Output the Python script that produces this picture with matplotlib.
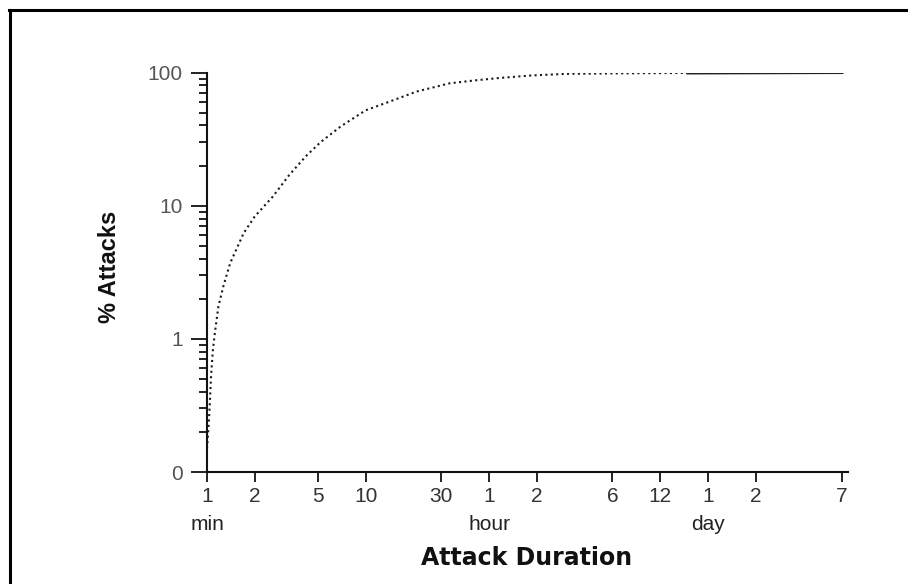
import matplotlib
matplotlib.use("Agg")
import matplotlib.pyplot as plt
from matplotlib.lines import Line2D
from matplotlib.transforms import blended_transform_factory

# =========================
# data (minutes, % attacks)
# =========================
duration_min = [1.0, 1.02, 1.04, 1.06, 1.09, 1.12, 1.18, 1.27, 1.4, 1.7,
                2.0, 2.6, 3.3, 4.2, 5.2, 7.0, 10.0, 15.0, 21.0, 34.0,
                50.0, 70.0, 111.0, 185.0, 374.0, 1080.0, 10080.0]
pct_attacks = [0.15, 0.21, 0.31, 0.52, 0.83, 1.1, 1.75, 2.5, 3.7, 6.2,
               8.3, 11.7, 17.0, 23.5, 30.0, 39.5, 52.0, 62.0, 72.0, 83.0,
               87.5, 91.0, 95.0, 97.7, 98.5, 99.2, 100.0]

x_ticks = [1, 2, 5, 10, 30, 60, 120, 360, 720, 1440, 2880, 10080]
x_tick_labels = ["1", "2", "5", "10", "30", "1", "2", "6", "12", "1", "2", "7"]
unit_pos = [1, 60, 1440]
unit_labels = ["min", "hour", "day"]

y_ticks = [0.1, 1, 10, 100]
y_tick_labels = ["0", "1", "10", "100"]

plt.rcParams["font.family"] = ["Liberation Sans", "DejaVu Sans"]

fig = plt.figure(figsize=(9.08, 5.84), dpi=100)
ax = fig.add_axes([207 / 908, 1 - 472 / 584, (848 - 207) / 908, (472 - 72.5) / 584])

# dotted curve, solid tail
ax.plot(duration_min, pct_attacks, color="#1a1a1a", linewidth=1.5,
        linestyle=(0, (1, 1.6)))
ax.plot(duration_min[-2:], pct_attacks[-2:], color="#222222", linewidth=2.2)

ax.set_xscale("log")
ax.set_yscale("log")
ax.set_xlim(1, 11006)
ax.set_ylim(0.1, 100)

for side in ["top", "right"]:
    ax.spines[side].set_visible(False)
for side in ["left", "bottom"]:
    ax.spines[side].set_linewidth(1.5)
    ax.spines[side].set_color("#111111")

# x ticks: only the labelled ones
ax.set_xticks(x_ticks)
ax.set_xticklabels(x_tick_labels)
ax.xaxis.set_minor_locator(matplotlib.ticker.NullLocator())
ax.tick_params(axis="x", which="major", direction="out", length=7.5, width=1.3,
               labelsize=15, labelcolor="#333333", pad=3, color="#111111")

# y ticks with minor ticks in each decade
ax.set_yticks(y_ticks)
ax.set_yticklabels(y_tick_labels)
ax.yaxis.set_minor_locator(matplotlib.ticker.LogLocator(base=10, subs=range(2, 10)))
ax.yaxis.set_minor_formatter(matplotlib.ticker.NullFormatter())
ax.tick_params(axis="y", which="major", direction="out", length=11.5, width=1.3,
               labelsize=15, labelcolor="#555555", pad=6, color="#111111")
ax.tick_params(axis="y", which="minor", direction="out", length=5.5, width=1.3,
               color="#111111")

# unit labels below the tick labels
trans = blended_transform_factory(ax.transData, fig.transFigure)
for pos, lab in zip(unit_pos, unit_labels):
    ax.text(pos, 1 - 525 / 584, lab, transform=trans, ha="center", va="center",
            fontsize=15, color="#222222")

fig.text(527 / 908, 1 - 558 / 584, "Attack Duration", ha="center", va="center",
         fontsize=17, fontweight="bold", family="DejaVu Sans", color="#111111")
fig.text(110 / 908, 1 - 267 / 584, "% Attacks", ha="center", va="center",
         rotation=90, fontsize=17, fontweight="bold", color="#111111")

# frame lines on top and left of the picture
fig.add_artist(Line2D([9 / 908, 1], [1 - 10 / 584, 1 - 10 / 584],
                      transform=fig.transFigure, color="black", linewidth=2.2))
fig.add_artist(Line2D([10 / 908, 10 / 908], [0, 1 - 10 / 584],
                      transform=fig.transFigure, color="black", linewidth=2.2))

plt.savefig("out.png", dpi=100)
plt.close()
